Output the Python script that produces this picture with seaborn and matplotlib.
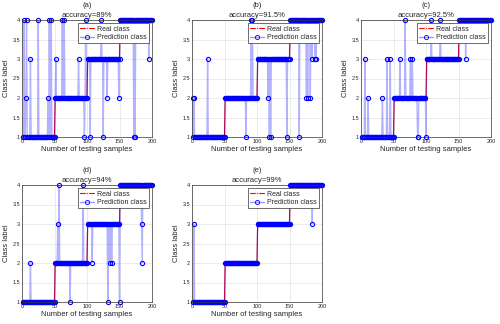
import numpy as np
import matplotlib
matplotlib.use('Agg')
import matplotlib.pyplot as plt
import seaborn as sns

# -------------------------------
# Data
n_samples = 200
class_labels = [1, 2, 3, 4]          # 50 test samples per class, in order
samples_per_class = 50

panel_names = ['(a)', '(b)', '(c)', '(d)', '(e)']
accuracies = ['accuracy=89%', 'accuracy=91.5%', 'accuracy=92.5%', 'accuracy=94%', 'accuracy=99%']

# misclassified samples: index (1-based) and predicted class
err_idx_a = [3, 6, 7, 13, 25, 40, 42, 45, 52, 62, 65, 87, 96, 98, 105, 122, 125, 131, 149, 172, 174, 195]
err_val_a = [4, 2, 4, 3, 4, 2, 4, 4, 3, 4, 4, 3, 1, 4, 1, 4, 1, 2, 2, 1, 1, 3]

err_idx_b = [1, 3, 24, 83, 91, 93, 117, 119, 121, 146, 165, 176, 178, 182, 185, 189, 191]
err_val_b = [2, 2, 3, 1, 4, 4, 2, 1, 1, 1, 1, 2, 2, 2, 3, 3, 3]

err_idx_c = [6, 11, 33, 40, 45, 60, 68, 76, 79, 87, 88, 100, 108, 122, 161]
err_val_c = [3, 2, 2, 3, 3, 3, 4, 3, 3, 1, 1, 1, 4, 4, 3]

err_idx_d = [13, 55, 57, 74, 94, 108, 132, 135, 138, 150, 184, 185]
err_val_d = [2, 3, 4, 1, 4, 2, 1, 2, 2, 1, 3, 2]

err_idx_e = [3, 185]
err_val_e = [3, 3]

errors = [(err_idx_a, err_val_a), (err_idx_b, err_val_b), (err_idx_c, err_val_c),
          (err_idx_d, err_val_d), (err_idx_e, err_val_e)]

x = np.arange(1, n_samples + 1)
real = np.repeat(class_labels, samples_per_class)

# -------------------------------
# Plot
sns.set_style('whitegrid')
plt.rcParams['font.family'] = ['Liberation Sans', 'DejaVu Sans']

fig = plt.figure(figsize=(5, 3.24), dpi=100)
W, H = 500, 324
boxes = [(22, 20), (192, 20), (361, 20), (22, 185), (192, 185)]
aw, ah = 130, 117

for k, (left, top) in enumerate(boxes):
    ax = fig.add_axes([left / W, 1 - (top + ah) / H, aw / W, ah / H])
    pred = real.copy()
    idx, val = errors[k]
    pred[np.array(idx) - 1] = val

    sns.lineplot(x=x, y=real, ax=ax, color='red', marker='*', markersize=3,
                 markeredgewidth=0.5, linewidth=0.8, label='Real class')
    sns.lineplot(x=x, y=pred, ax=ax, color='blue', alpha=0.3, linewidth=1.0, label='Prediction class')
    ax.plot(x, pred, linestyle='none', marker='o', markersize=3, markerfacecolor='none',
            markeredgecolor='blue', markeredgewidth=0.8, clip_on=False)

    ax.set_xlim(0, 200)
    ax.set_ylim(1, 4)
    ax.set_xticks([0, 50, 100, 150, 200])
    ax.set_yticks([1, 1.5, 2, 2.5, 3, 3.5, 4])
    ax.set_yticklabels(['1', '1.5', '2', '2.5', '3', '3.5', '4'])
    ax.tick_params(labelsize=4, pad=1.5, length=0)
    ax.grid(color='#e3e3e3', linewidth=0.5)
    for s in ax.spines.values():
        s.set_color('#333333')
        s.set_linewidth(0.5)
    ax.set_xlabel('Number of testing samples', fontsize=5.5, labelpad=1.5)
    ax.set_ylabel('Class label', fontsize=5.5, labelpad=1.5)

    ax.text(0.5, 1.12, panel_names[k], transform=ax.transAxes, ha='center', va='center', fontsize=5.5)
    ax.text(0.5, 1.035, accuracies[k], transform=ax.transAxes, ha='center', va='center', fontsize=5.5)

    # legend with light blue line + blue circle for prediction
    handles, labels = ax.get_legend_handles_labels()
    handles[1] = plt.Line2D([], [], color=(0.6, 0.6, 1.0), linewidth=1.0, marker='o', markersize=3,
                            markerfacecolor='none', markeredgecolor='blue', markeredgewidth=0.6)
    leg = ax.legend(handles[:2], labels[:2], loc='upper right', fontsize=5, frameon=True,
                    fancybox=False, borderpad=0.3, handlelength=2.0, handletextpad=0.4,
                    labelspacing=0.2, borderaxespad=0.5, framealpha=1)
    leg.get_frame().set_edgecolor('#333333')
    leg.get_frame().set_linewidth(0.5)

plt.savefig('out.png', dpi=100)
